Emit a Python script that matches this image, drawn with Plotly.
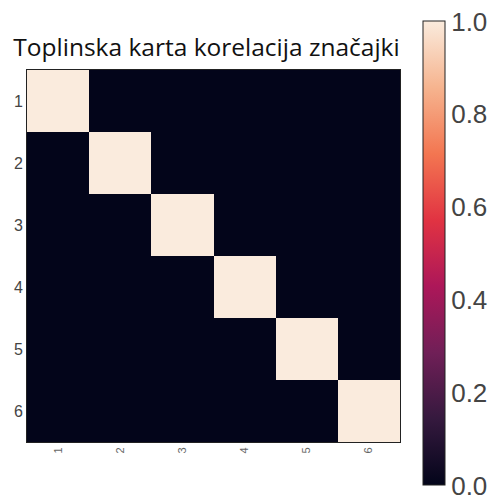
import plotly.graph_objects as go

# Feature labels and correlation matrix
features = ["1", "2", "3", "4", "5", "6"]
corr = [
    [1.0, 0.0, 0.0, 0.0, 0.0, 0.0],
    [0.0, 1.0, 0.0, 0.0, 0.0, 0.0],
    [0.0, 0.0, 1.0, 0.0, 0.0, 0.0],
    [0.0, 0.0, 0.0, 1.0, 0.0, 0.0],
    [0.0, 0.0, 0.0, 0.0, 1.0, 0.0],
    [0.0, 0.0, 0.0, 0.0, 0.0, 1.0],
]
cbar_ticks = [0.0, 0.2, 0.4, 0.6, 0.8, 1.0]

# "rocket"-style sequential colour scale
rocket = [
    [0.0, "#03051a"],
    [0.143, "#35193e"],
    [0.286, "#701f57"],
    [0.429, "#ad1759"],
    [0.571, "#e13342"],
    [0.714, "#f37651"],
    [0.857, "#f6b48f"],
    [1.0, "#faebdd"],
]

fig = go.Figure(
    go.Heatmap(
        z=corr,
        x=features,
        y=features,
        colorscale=rocket,
        zmin=0,
        zmax=1,
        colorbar=dict(
            thickness=22,
            lenmode="pixels",
            len=464,
            x=1.0617,
            xanchor="left",
            xpad=0,
            ypad=0,
            y=0.507,
            yanchor="middle",
            outlinecolor="#222222",
            outlinewidth=1,
            tickvals=cbar_ticks,
            ticktext=[f"{v:.1f}" for v in cbar_ticks],
            ticks="",
            ticklen=0,
            tickfont=dict(family="Liberation Sans, Arial, sans-serif", size=26, color="#444444"),
        ),
    )
)

fig.update_layout(
    width=494,
    height=502,
    margin=dict(l=27, r=94, t=70, b=60, autoexpand=False),
    paper_bgcolor="white",
    plot_bgcolor="white",
    title=dict(
        text="Toplinska karta korelacija značajki",
        x=0.418,
        xref="container",
        xanchor="center",
        y=0.905,
        yref="container",
        yanchor="middle",
        font=dict(family="Open Sans, sans-serif", size=24.5, color="#111111"),
    ),
    xaxis=dict(
        tickangle=-90,
        showgrid=False,
        zeroline=False,
        showline=True,
        linecolor="#222222",
        linewidth=1,
        mirror=True,
        ticks="",
        ticklen=6,
        tickfont=dict(family="Liberation Sans, Arial, sans-serif", size=11, color="#666666"),
    ),
    yaxis=dict(
        autorange="reversed",
        showgrid=False,
        zeroline=False,
        showline=True,
        linecolor="#222222",
        linewidth=1,
        mirror=True,
        ticks="",
        tickfont=dict(family="Liberation Sans, Arial, sans-serif", size=16, color="#444444"),
    ),
)

fig.write_html("out.html")
